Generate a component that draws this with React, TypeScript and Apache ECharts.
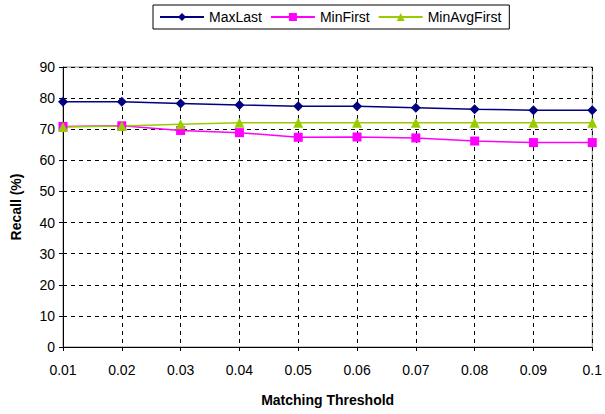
import React, { useEffect, useRef } from "react";
import * as echarts from "echarts";

const thresholds = ["0.01", "0.02", "0.03", "0.04", "0.05", "0.06", "0.07", "0.08", "0.09", "0.1"];
const maxLast = [78.8, 78.8, 78.3, 77.8, 77.4, 77.4, 76.9, 76.4, 76.1, 76.1];
const minFirst = [70.9, 71.1, 69.6, 68.9, 67.4, 67.5, 67.2, 66.2, 65.7, 65.7];
const minAvgFirst = [70.7, 71.0, 71.6, 72.1, 72.1, 72.1, 72.1, 72.1, 72.1, 72.1];

const FONT = "Liberation Sans, Arial, sans-serif";

export default function App() {
  const ref = useRef<HTMLDivElement>(null);
  useEffect(() => {
    if (!ref.current) return;
    const chart = echarts.init(ref.current, undefined, { renderer: "svg" });
    const mk = (name: string, data: number[], color: string, symbol: string, size: number) => ({
      name,
      type: "line",
      data,
      symbol,
      symbolSize: size,
      lineStyle: { color, width: 1.5 },
      itemStyle: { color },
    });
    chart.setOption({
      animation: false,
      backgroundColor: "#ffffff",
      textStyle: { fontFamily: FONT },
      legend: {
        left: 153,
        top: 5,
        width: 360,
        borderColor: "#000",
        borderWidth: 1,
        padding: [5, 8, 5, 6],
        itemGap: 8,
        itemWidth: 44,
        itemHeight: 10,
        textStyle: { fontFamily: FONT, fontSize: 14, color: "#000" },
        data: ["MaxLast", "MinFirst", "MinAvgFirst"],
      },
      grid: {
        left: 63,
        right: 11,
        top: 67,
        bottom: 67,
        show: true,
        borderColor: "#888",
        borderWidth: 1,
      },
      xAxis: {
        type: "category",
        data: thresholds,
        boundaryGap: false,
        name: "Matching Threshold",
        nameLocation: "middle",
        nameGap: 46,
        nameTextStyle: { fontFamily: FONT, fontSize: 14, fontWeight: "bold", color: "#000" },
        axisLine: { lineStyle: { color: "#000", width: 1 } },
        axisTick: { show: true, inside: false, length: 4, lineStyle: { color: "#000" } },
        axisLabel: { color: "#000", fontSize: 14, fontFamily: FONT, margin: 16 },
        splitLine: { show: true, lineStyle: { color: "#000", type: [4, 4], width: 1 } },
      },
      yAxis: {
        type: "value",
        min: 0,
        max: 90,
        interval: 10,
        name: "Recall (%)",
        nameLocation: "middle",
        nameGap: 40,
        nameRotate: 90,
        nameTextStyle: { fontFamily: FONT, fontSize: 14, fontWeight: "bold", color: "#000" },
        axisLine: { show: true, lineStyle: { color: "#000", width: 1 } },
        axisTick: { show: true, length: 4, lineStyle: { color: "#000" } },
        axisLabel: { color: "#000", fontSize: 14, fontFamily: FONT, margin: 8 },
        splitLine: { show: true, lineStyle: { color: "#000", type: [4, 4], width: 1 } },
      },
      series: [
        mk("MaxLast", maxLast, "#000080", "diamond", 10),
        mk("MinFirst", minFirst, "#FF00FF", "rect", 9),
        mk("MinAvgFirst", minAvgFirst, "#99CC00", "triangle", 10),
      ],
    });
    return () => chart.dispose();
  }, []);
  return <div ref={ref} style={{ width: 605, height: 414, position: "absolute", left: 0, top: 0 }} />;
}
